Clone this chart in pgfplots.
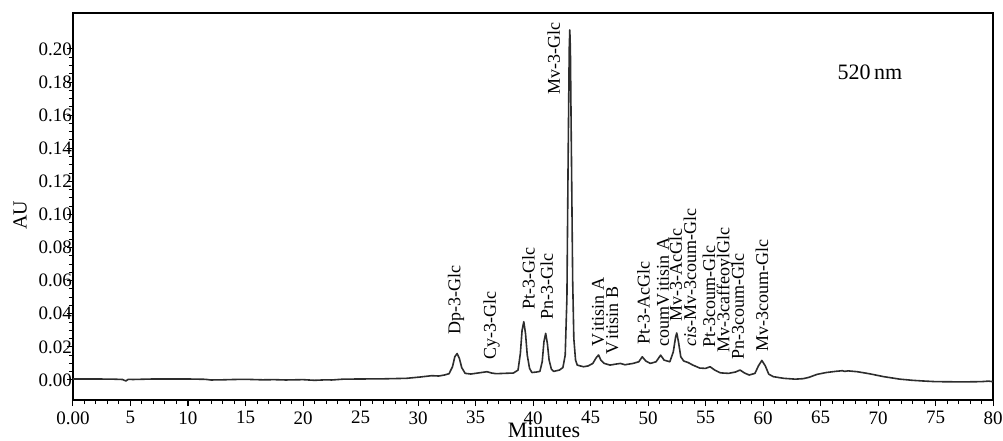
\documentclass[border=0pt]{standalone}
\usepackage{fontspec}
\setmainfont{Liberation Serif}
\usepackage{pgfplots}
\pgfplotsset{compat=1.18}
\definecolor{trace}{RGB}{45,45,45}
\begin{document}
\begin{tikzpicture}
\begin{axis}[
  scale only axis,
  width=460pt, height=193.5pt,
  xmin=0, xmax=80,
  ymin=-0.0121, ymax=0.2217,
  clip=false,
  axis line style={line width=0.75pt, black},
  tick align=outside,
  xtick pos=left, ytick pos=left,
  major tick length=3pt, minor tick length=2pt,
  every tick/.style={black, line width=0.5pt},
  xtick={0,5,...,80},
  xticklabels={0.00,5,10,15,20,25,30,35,40,45,50,55,60,65,70,75,80},
  minor x tick num=4,
  ytick={0,0.02,...,0.2001},
  yticklabels={0.00,0.02,0.04,0.06,0.08,0.10,0.12,0.14,0.16,0.18,0.20},
  minor y tick num=3,
  tick label style={font=\fontsize{9.5}{11}\selectfont},
  xticklabel style={inner xsep=0pt, inner ysep=2.5pt},
  yticklabel style={inner xsep=0.3pt},
  yticklabel shift=-3pt,
  xlabel={Minutes},
  xlabel style={font=\fontsize{11}{13}\selectfont, at={(rel axis cs:0.512,-0.0775)}, anchor=center, inner sep=0pt},
  ylabel={AU},
  ylabel style={font=\fontsize{10}{12}\selectfont, at={(rel axis cs:-0.0576,0.478)}, anchor=center, rotate=0},
]
\path[draw=none] (rel axis cs:-0.07935,-0.1059) rectangle (rel axis cs:1.01087,1.0336);
\addplot[color=trace, line width=0.8pt, line join=round] coordinates {
(0,0.0006) (2,0.0006) (3.5,0.0005) (4.3,0.0003) (4.6,-0.0006) (4.8,0.0004) (5.2,0.0003)
(7,0.0006) (10,0.0006) (11.5,0.0004) (12,0.0000) (13,0.0001) (14,0.0003) (15,0.0004)
(16.5,0.0001) (17.5,0.0002) (18.5,0.0000) (20,0.0002) (21,-0.0002) (22,0.0001) (22.5,0.0000)
(23.5,0.0005) (25,0.0006) (27,0.0007) (29,0.0010) (30.2,0.0018) (31.2,0.0026) (31.8,0.0024)
(32.3,0.0030) (32.7,0.0038) (33.0,0.0080) (33.2,0.0140) (33.4,0.0160) (33.6,0.0130)
(33.8,0.0075) (34.1,0.0040) (34.6,0.0036) (35.4,0.0044) (36.0,0.0050) (36.4,0.0042)
(36.8,0.0038) (37.5,0.0040) (38.3,0.0042) (38.7,0.0060) (38.9,0.0160) (39.05,0.0300)
(39.2,0.0352) (39.35,0.0280) (39.5,0.0150) (39.7,0.0070) (39.9,0.0045) (40.3,0.0048)
(40.6,0.0052) (40.8,0.0110) (40.95,0.0230) (41.1,0.0282) (41.25,0.0220) (41.4,0.0120)
(41.6,0.0065) (41.8,0.0052) (42.3,0.0060) (42.6,0.0075) (42.8,0.0150) (42.95,0.0500)
(43.05,0.1300) (43.15,0.2000) (43.2,0.2115) (43.25,0.2000) (43.35,0.1300) (43.45,0.0600)
(43.55,0.0250) (43.7,0.0120) (43.85,0.0090) (44.1,0.0085) (44.4,0.0080) (44.8,0.0085)
(45.2,0.0100) (45.5,0.0135) (45.7,0.0151) (45.9,0.0120) (46.2,0.0100) (46.7,0.0090)
(47.2,0.0096) (47.6,0.0100) (48.0,0.0092) (48.7,0.0100) (49.2,0.0110) (49.5,0.0140)
(49.8,0.0115) (50.2,0.0100) (50.7,0.0110) (51.1,0.0150) (51.4,0.0120) (51.9,0.0110)
(52.2,0.0170) (52.4,0.0260) (52.5,0.0284) (52.65,0.0230) (52.85,0.0140) (53.1,0.0115)
(53.5,0.0105) (53.9,0.0090) (54.5,0.0072) (55.0,0.0070) (55.4,0.0080) (55.8,0.0060)
(56.3,0.0043) (57.0,0.0040) (57.6,0.0048) (58.0,0.0060) (58.4,0.0042) (58.8,0.0030)
(59.3,0.0040) (59.6,0.0085) (59.9,0.0118) (60.2,0.0085) (60.5,0.0035) (60.9,0.0020)
(61.8,0.0010) (62.8,0.0005) (63.5,0.0008) (64.0,0.0016) (64.7,0.0034) (65.5,0.0045)
(66.3,0.0052) (66.9,0.0056) (67.1,0.0052) (67.4,0.0055) (68.2,0.0050) (69.3,0.0037)
(70.5,0.0020) (71.9,0.0005) (73.0,-0.0002) (73.9,-0.0006) (75.0,-0.0010) (76.5,-0.0011)
(78.0,-0.0011) (79.0,-0.0010) (79.6,-0.0007) (80.0,-0.0010)
};
\begin{scope}[every node/.style={rotate=90, anchor=west, inner sep=0pt, font=\fontsize{9}{11}\selectfont}]
\node at (axis cs:33.3,0.0272) {Dp-3-Glc};
\node at (axis cs:36.4,0.0121) {Cy-3-Glc};
\node at (axis cs:39.6,0.0423) {Pt-3-Glc};
\node at (axis cs:41.2,0.0363) {Pn-3-Glc};
\node at (axis cs:41.8,0.1722) {Mv-3-Glc};
\node at (axis cs:45.65,0.0199) {V\kern1.2pt itisin A};
\node at (axis cs:46.9,0.0151) {V\kern1.2pt itisin B};
\node at (axis cs:49.6,0.0211) {Pt-3-AcGlc};
\node at (axis cs:51.3,0.0199) {coumV\kern1.2pt itisin A};
\node at (axis cs:52.4,0.0350) {Mv-3-AcGlc};
\node at (axis cs:53.65,0.0199) {\textit{cis}-Mv-3coum-Glc};
\node at (axis cs:55.3,0.0193) {Pt-3coum-Glc};
\node at (axis cs:56.7,0.0163) {Mv-3caffeoylGlc};
\node at (axis cs:57.8,0.0121) {Pn-3coum-Glc};
\node at (axis cs:59.9,0.0169) {Mv-3coum-Glc};
\end{scope}
\node[font=\fontsize{11}{13}\selectfont, anchor=center] at (axis cs:69.3,0.186) {520\,nm};
\end{axis}
\end{tikzpicture}
\end{document}
